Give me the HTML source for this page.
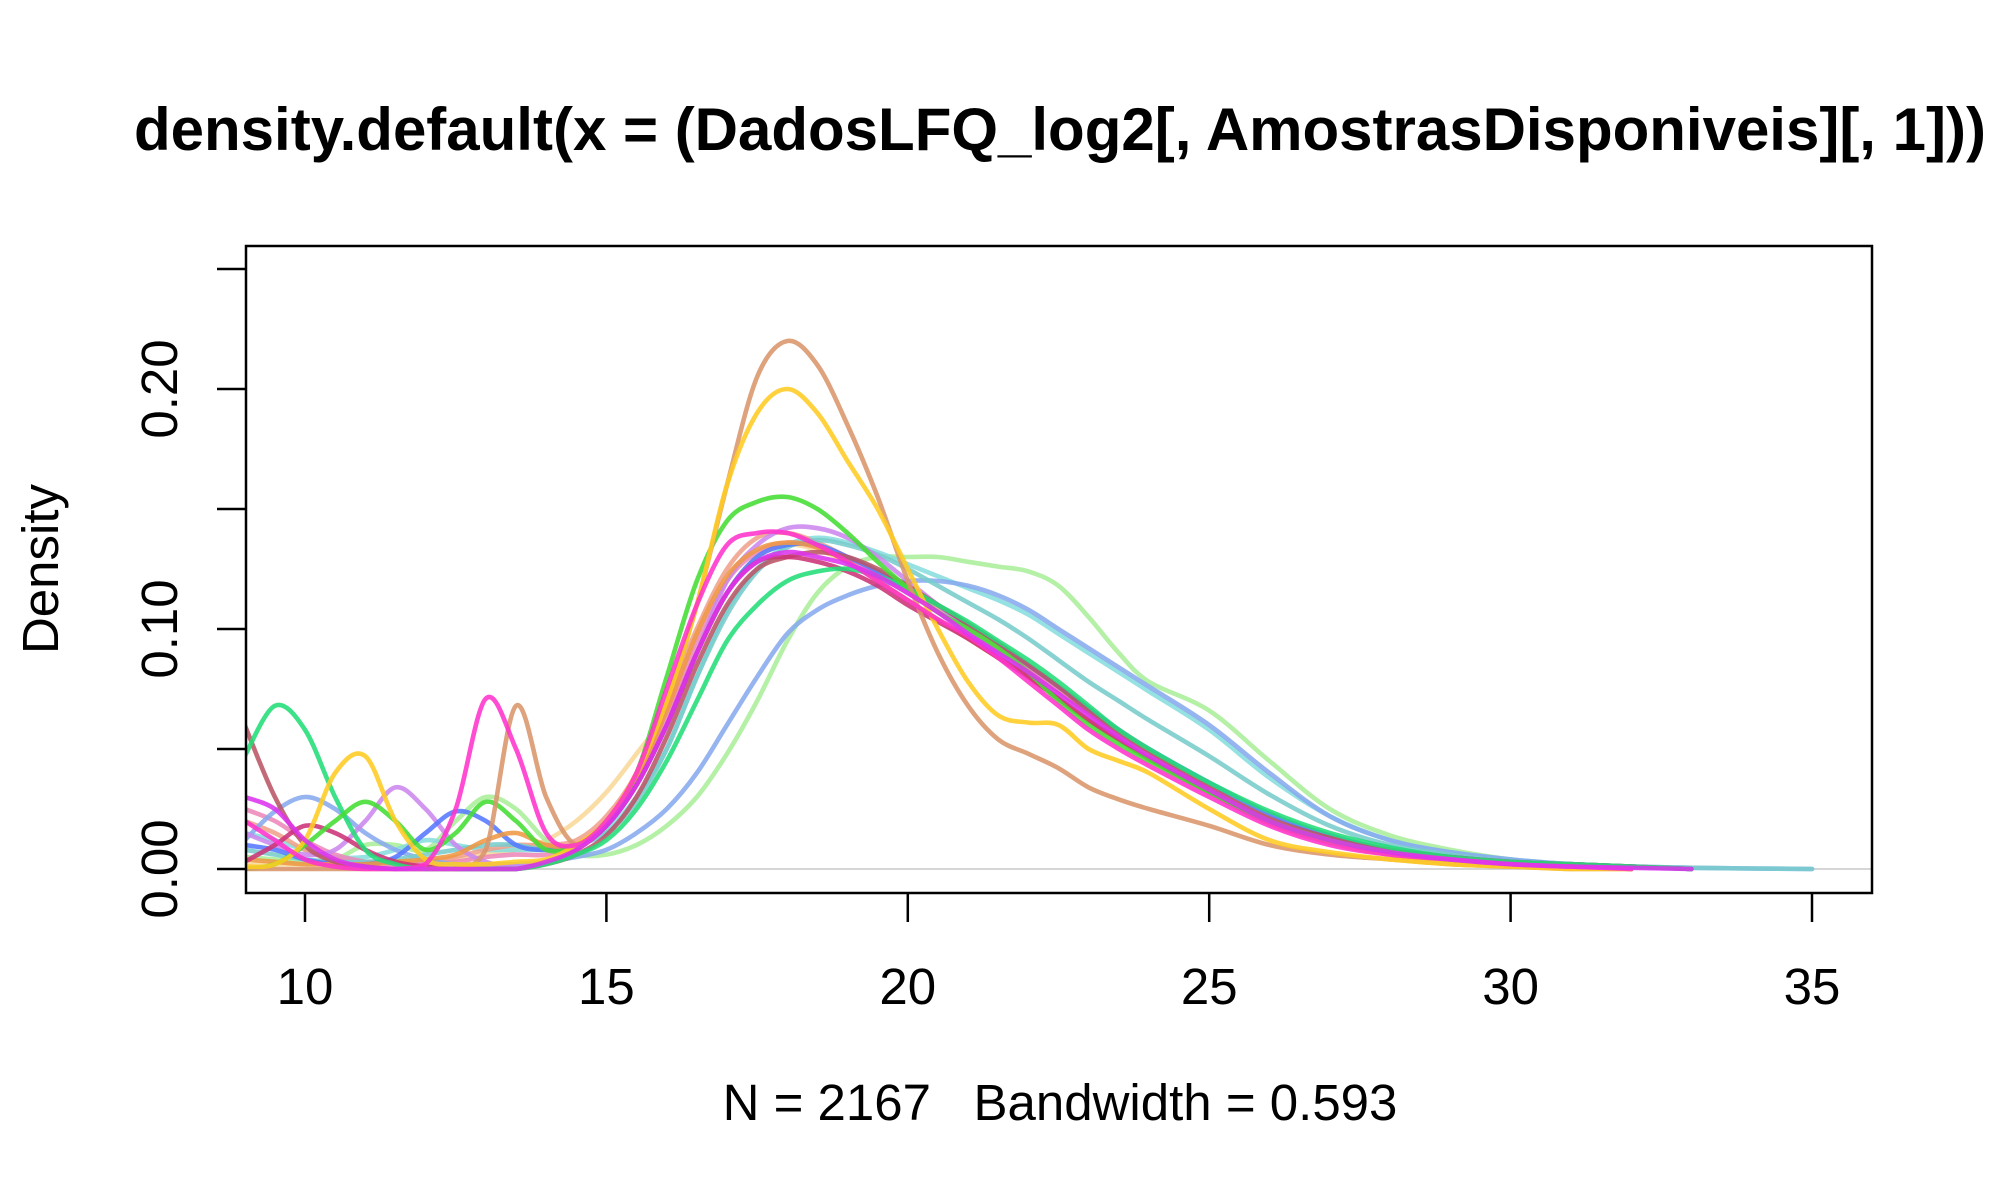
<!DOCTYPE html>
<html><head><meta charset="utf-8"><style>
body{margin:0;background:#fff;}
svg{display:block;font-family:"Liberation Sans",Arial,sans-serif;}
text{white-space:pre;}
</style></head><body>
<svg id="chart" width="2000" height="1200" viewBox="0 0 2000 1200">
<text x="1060" y="150" text-anchor="middle" font-size="60" font-weight="bold">density.default(x = (DadosLFQ_log2[, AmostrasDisponiveis][, 1]))</text>
<text x="1060" y="1120" text-anchor="middle" font-size="51" xml:space="preserve">N = 2167   Bandwidth = 0.593</text>
<text x="0" y="0" transform="translate(58,569) rotate(-90)" text-anchor="middle" font-size="51">Density</text>
<g id="axes"></g>
<g id="series"></g>
<rect x="246" y="246" width="1626" height="647" fill="none" stroke="#000" stroke-width="2.5"/>
</svg>
<script>
const xGrid=[9,9.5,10,10.5,11,11.5,12,12.5,13,13.5,14,14.5,15,15.5,16,16.5,17,17.5,18,18.5,19,19.5,20,20.5,21,21.5,22,22.5,23,23.5,24,25,26,27,28,29,30,31,32,33,34,35];
const xTicks=[10,15,20,25,30,35];
const yTicks=[0,0.05,0.10,0.15,0.20,0.25];
const yTickLabels=["0.00","","0.10","","0.20",""];
const seriesColors=["#F8D898","#AAEE99","#88DDDD","#F0A08C","#EE88BB","#88AAEE","#77CCCC","#CC88EE","#5577FF","#EE9944","#BB5566","#CC3377","#22DD77","#44DD33","#D9956B","#FFCC22","#FF33CC","#DD33EE"];
const s_ltan=[.002,.002,.002,.002,.002,.002,.003,.004,.006,.008,.012,.02,.032,.048,.065,.09,.115,.13,.135,.133,.128,.122,.115,.107,.1,.092,.084,.075,.066,.058,.05,.035,.022,.013,.007,.004,.002,.001,0];
const s_lgreen=[.005,.004,.003,.004,.01,.01,.008,.02,.03,.025,.012,.006,.006,.01,.018,.03,.048,.07,.095,.115,.126,.13,.13,.13,.128,.126,.124,.118,.105,.09,.078,.066,.045,.025,.014,.008,.004,.002,.001,0];
const s_cyan=[.015,.012,.008,.005,.005,.008,.012,.01,.008,.008,.008,.01,.016,.03,.05,.08,.108,.125,.135,.138,.136,.132,.127,.122,.117,.112,.106,.098,.09,.082,.074,.058,.038,.022,.012,.007,.004,.002,.001,0];
const s_salmon=[.02,.015,.008,.004,.003,.003,.003,.005,.008,.01,.01,.012,.022,.04,.07,.1,.125,.138,.14,.136,.13,.123,.115,.108,.1,.092,.083,.074,.065,.056,.048,.033,.02,.012,.007,.004,.002,.001,0];
const s_pink=[.025,.02,.012,.006,.003,.002,.002,.003,.005,.006,.006,.01,.02,.038,.065,.095,.12,.132,.136,.134,.129,.122,.115,.107,.099,.091,.083,.074,.065,.056,.048,.034,.021,.013,.008,.005,.003,.002,.001,0];
const s_steel=[.012,.024,.03,.025,.015,.008,.004,.002,.002,.002,.003,.005,.008,.015,.025,.04,.06,.08,.098,.108,.114,.118,.12,.12,.118,.114,.108,.1,.092,.084,.076,.06,.04,.022,.012,.007,.004,.002,.001,.0005,.0002,0];
const s_teal=[.008,.006,.004,.003,.003,.004,.006,.008,.01,.01,.008,.01,.015,.028,.05,.08,.106,.124,.134,.137,.135,.131,.125,.118,.111,.104,.096,.087,.078,.07,.062,.047,.031,.018,.01,.006,.003,.002,.001,.0005,.0002,0];
const s_lviolet=[.015,.01,.006,.008,.02,.034,.025,.01,.003,.001,.003,.008,.018,.035,.06,.09,.12,.135,.142,.142,.138,.13,.12,.11,.1,.09,.08,.071,.062,.054,.046,.032,.02,.012,.007,.004,.002,.001,0];
const s_blue=[.01,.008,.004,.002,.002,.005,.015,.024,.02,.01,.008,.01,.018,.035,.06,.09,.115,.13,.135,.135,.13,.124,.117,.11,.102,.094,.085,.076,.067,.058,.05,.036,.023,.014,.008,.005,.003,.002,.001,0];
const s_orange=[.004,.003,.002,.002,.002,.003,.004,.006,.012,.015,.01,.01,.02,.038,.066,.098,.122,.133,.136,.134,.128,.12,.112,.104,.096,.088,.08,.071,.062,.054,.046,.032,.019,.011,.006,.003,.002,.001,0];
const s_dred=[.06,.03,.01,.003,.001,0,0,0,0,0,.002,.006,.014,.03,.055,.085,.11,.125,.13,.132,.13,.125,.118,.11,.102,.094,.085,.076,.066,.057,.049,.034,.021,.013,.008,.005,.003,.002,.001,0];
const s_crimson=[.003,.01,.018,.015,.008,.003,.001,0,0,0,.003,.008,.018,.035,.06,.09,.115,.128,.13,.128,.124,.118,.11,.103,.096,.088,.08,.071,.062,.054,.046,.032,.02,.012,.007,.004,.002,.001,0];
const s_spring=[.047,.068,.058,.03,.008,.002,0,0,0,0,.002,.006,.012,.025,.045,.07,.095,.11,.12,.124,.125,.122,.117,.11,.103,.095,.087,.078,.068,.058,.05,.036,.024,.015,.009,.005,.003,.002,.001,0];
const s_green=[0,.002,.01,.02,.028,.02,.008,.015,.028,.02,.008,.01,.02,.04,.08,.12,.145,.153,.155,.15,.14,.128,.117,.107,.1,.092,.082,.07,.06,.052,.045,.032,.02,.012,.007,.004,.002,.001,0];
const s_tan=[0,0,0,0,0,0,0,0,.008,.068,.03,.01,.02,.04,.07,.11,.16,.205,.22,.21,.185,.155,.12,.09,.068,.054,.048,.042,.034,.029,.025,.018,.01,.006,.004,.002,.001,0,0];
const s_yellow=[.001,.002,.012,.04,.047,.02,.004,.002,.002,.003,.004,.01,.02,.04,.07,.11,.16,.19,.2,.19,.17,.15,.125,.1,.078,.064,.061,.06,.05,.045,.04,.025,.012,.007,.004,.002,.001,0,0];
const s_magenta=[.02,.012,.004,.001,0,0,.002,.025,.071,.05,.015,.01,.02,.04,.075,.11,.135,.14,.14,.135,.128,.12,.112,.104,.097,.088,.078,.068,.058,.05,.043,.03,.018,.01,.006,.004,.002,.001,0];
const s_violet=[.03,.025,.012,.004,.001,0,0,0,0,0,.003,.008,.018,.035,.06,.09,.115,.128,.132,.13,.127,.122,.115,.107,.098,.09,.082,.073,.064,.055,.047,.033,.02,.012,.007,.004,.002,.001,.0005,0];
const seriesNames=["ltan","lgreen","cyan","salmon","pink","steel","teal","lviolet","blue","orange","dred","crimson","spring","green","tan","yellow","magenta","violet"];
const seriesValues=[s_ltan,s_lgreen,s_cyan,s_salmon,s_pink,s_steel,s_teal,s_lviolet,s_blue,s_orange,s_dred,s_crimson,s_spring,s_green,s_tan,s_yellow,s_magenta,s_violet];

const NS="http://www.w3.org/2000/svg";
const X0=246,X1=1872,Y0=893,Y1=246;
function sx(v){return 305+(v-10)*60.28;}
function sy(v){return 869-v*2400;}
function mk(tag,attrs,parent){const e=document.createElementNS(NS,tag);for(const k in attrs)e.setAttribute(k,attrs[k]);parent.appendChild(e);return e;}
const axes=document.getElementById('axes');
const series=document.getElementById('series');

const zl=mk('line',{x1:X0,x2:X1,y1:sy(0),y2:sy(0),stroke:'#c8c8c8','stroke-width':1.5},axes);



xTicks.forEach(t=>{
  const l=mk('line',{x1:sx(t),x2:sx(t),y1:Y0,y2:Y0+29,stroke:'#000','stroke-width':2.5},axes);
  
  
  const tx=mk('text',{x:sx(t),y:1004,'text-anchor':'middle','font-size':51},axes);
  
  
  tx.textContent=String(t);
});
yTicks.forEach((t,i)=>{
  const l=mk('line',{x1:X0-29,x2:X0,y1:sy(t),y2:sy(t),stroke:'#000','stroke-width':2.5},axes);
  
  
  if(yTickLabels[i]){
    const tx=mk('text',{x:0,y:0,transform:`translate(177,${sy(t)}) rotate(-90)`,'text-anchor':'middle','font-size':51},axes);
    
    
    tx.textContent=yTickLabels[i];
  }
});

function pathFor(vals){
  const pts=vals.map((v,i)=>[sx(xGrid[i]),sy(v)]);
  let d='M'+pts[0][0].toFixed(1)+','+pts[0][1].toFixed(1);
  for(let i=0;i<pts.length-1;i++){
    const p0=pts[Math.max(0,i-1)],p1=pts[i],p2=pts[i+1],p3=pts[Math.min(pts.length-1,i+2)];
    const c1=[p1[0]+(p2[0]-p0[0])/6,p1[1]+(p2[1]-p0[1])/6];
    const c2=[p2[0]-(p3[0]-p1[0])/6,p2[1]-(p3[1]-p1[1])/6];
    d+=` C${c1[0].toFixed(1)},${Math.min(c1[1],sy(0)).toFixed(1)} ${c2[0].toFixed(1)},${Math.min(c2[1],sy(0)).toFixed(1)} ${p2[0].toFixed(1)},${p2[1].toFixed(1)}`;
  }
  return d;
}
const clip=mk('clipPath',{id:'plotclip'},mk('defs',{},series));
mk('rect',{x:X0,y:Y1,width:X1-X0,height:Y0-Y1},clip);
seriesValues.forEach((vals,i)=>{
  const p=mk('path',{d:pathFor(vals),fill:'none',stroke:seriesColors[i],'stroke-width':4.6,'stroke-opacity':0.88,'stroke-linejoin':'round','stroke-linecap':'round','clip-path':'url(#plotclip)'},series);
  
  
});
</script>
</body></html>
